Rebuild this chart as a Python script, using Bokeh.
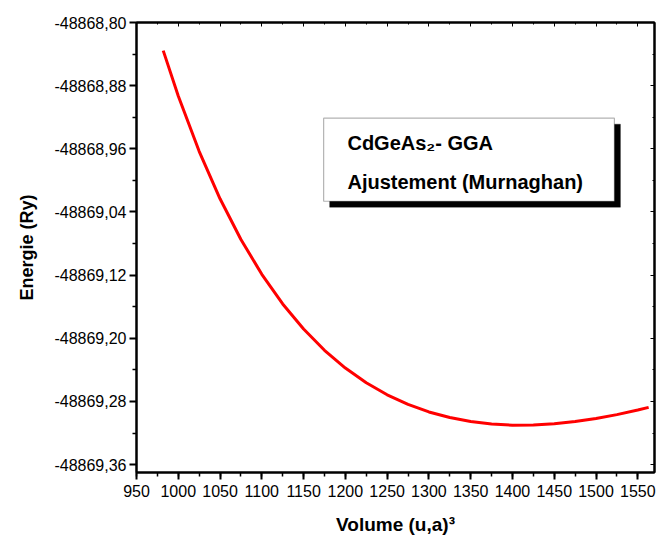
from bokeh.plotting import figure
from bokeh.models import (Range1d, LinearAxis, SingleIntervalTicker, FixedTicker,
                          CustomJSTickFormatter, BoxAnnotation, Label)
from bokeh.embed import file_html
from bokeh.resources import INLINE

# Murnaghan fit of E(V) for CdGeAs2 (GGA), sampled along the fitted curve
volume = [982, 1000, 1025, 1050, 1075, 1100, 1125, 1150, 1175, 1200, 1225,
          1250, 1275, 1300, 1325, 1350, 1375, 1400, 1425, 1450, 1475, 1500,
          1525, 1550, 1563]
energy = [-48868.8356, -48868.8931, -48868.9632, -48869.0233, -48869.0748,
          -48869.1189, -48869.1565, -48869.1883, -48869.2152, -48869.2377,
          -48869.2563, -48869.2716, -48869.2838, -48869.2933, -48869.3004,
          -48869.3054, -48869.3085, -48869.3100, -48869.3097, -48869.3082,
          -48869.3055, -48869.3016, -48869.2967, -48869.2909, -48869.2875]

y_ticks = [-48868.80, -48868.88, -48868.96, -48869.04, -48869.12,
           -48869.20, -48869.28, -48869.36]
y_minor = [-48868.84, -48868.92, -48869.00, -48869.08, -48869.16,
           -48869.24, -48869.32]

FONT = "Liberation Sans"

p = figure(width=656, height=547, output_backend="svg", toolbar_location=None,
           x_range=Range1d(950, 1570), y_range=Range1d(-48869.37, -48868.80),
           min_border_left=136, min_border_right=2, min_border_top=22,
           min_border_bottom=75)
p.grid.visible = False
p.background_fill_color = "white"
p.border_fill_color = "white"
p.outline_line_color = "black"
p.outline_line_width = 2

p.line(volume, energy, line_color="#ff0000", line_width=3)

xa = p.xaxis[0]
xa.ticker = SingleIntervalTicker(interval=50, num_minor_ticks=2)
xa.axis_label = "Volume (u,a)³"
ya = p.yaxis[0]
ya.ticker = FixedTicker(ticks=y_ticks, minor_ticks=y_minor)
ya.formatter = CustomJSTickFormatter(code="return tick.toFixed(2).replace('.', ',');")
ya.axis_label = "Energie (Ry)"

for ax in (xa, ya):
    ax.axis_line_width = 2
    ax.axis_line_color = "black"
    ax.major_tick_line_width = 2
    ax.minor_tick_line_width = 1.5
    ax.major_tick_out = 7
    ax.major_tick_in = 0
    ax.minor_tick_out = 4
    ax.minor_tick_in = 0
    ax.major_label_text_font = FONT
    ax.major_label_text_font_size = "16px"
    ax.major_label_text_color = "black"
    ax.axis_label_text_font = FONT
    ax.axis_label_text_font_style = "bold"
    ax.axis_label_text_color = "black"
xa.axis_label_text_font_size = "19px"
ya.axis_label_text_font_size = "18px"
ya.major_label_standoff = 3
ya.axis_label_standoff = 14
xa.major_label_standoff = 5
xa.axis_label_standoff = 14

# mirrored axes on top and right: inward ticks, no labels
top = LinearAxis(ticker=SingleIntervalTicker(interval=50, num_minor_ticks=2))
right = LinearAxis(ticker=FixedTicker(ticks=y_ticks, minor_ticks=y_minor))
for ax in (top, right):
    ax.axis_line_width = 2
    ax.major_tick_in = 4
    ax.major_tick_out = 0
    ax.minor_tick_in = 2
    ax.minor_tick_out = 0
    ax.major_label_text_font_size = "1px"
    ax.major_label_text_color = None
    ax.major_label_text_alpha = 0
    ax.major_label_standoff = 0
p.add_layout(top, "above")
p.add_layout(right, "right")

# framed caption with drop shadow
box_left, box_right = 1174.0, 1522.0
box_top, box_bottom = -48868.9212, -48869.0264
shadow_dx, shadow_dy = 7.2, 0.0076
p.add_layout(BoxAnnotation(left=box_left + shadow_dx, right=box_right + shadow_dx,
                           top=box_top - shadow_dy, bottom=box_bottom - shadow_dy,
                           fill_color="black", fill_alpha=1, line_color="black"))
p.add_layout(BoxAnnotation(left=box_left, right=box_right, top=box_top,
                           bottom=box_bottom, fill_color="white", fill_alpha=1,
                           line_color="black", line_width=1.2))
for txt, yy in (("CdGeAs₂- GGA", -48868.9530), ("Ajustement (Murnaghan)", -48869.0023)):
    p.add_layout(Label(x=1202.5, y=yy, text=txt, text_font=FONT,
                       text_font_style="bold", text_font_size="20px",
                       text_baseline="middle", text_color="black"))

open("out.html", "w").write(file_html(p, INLINE))
